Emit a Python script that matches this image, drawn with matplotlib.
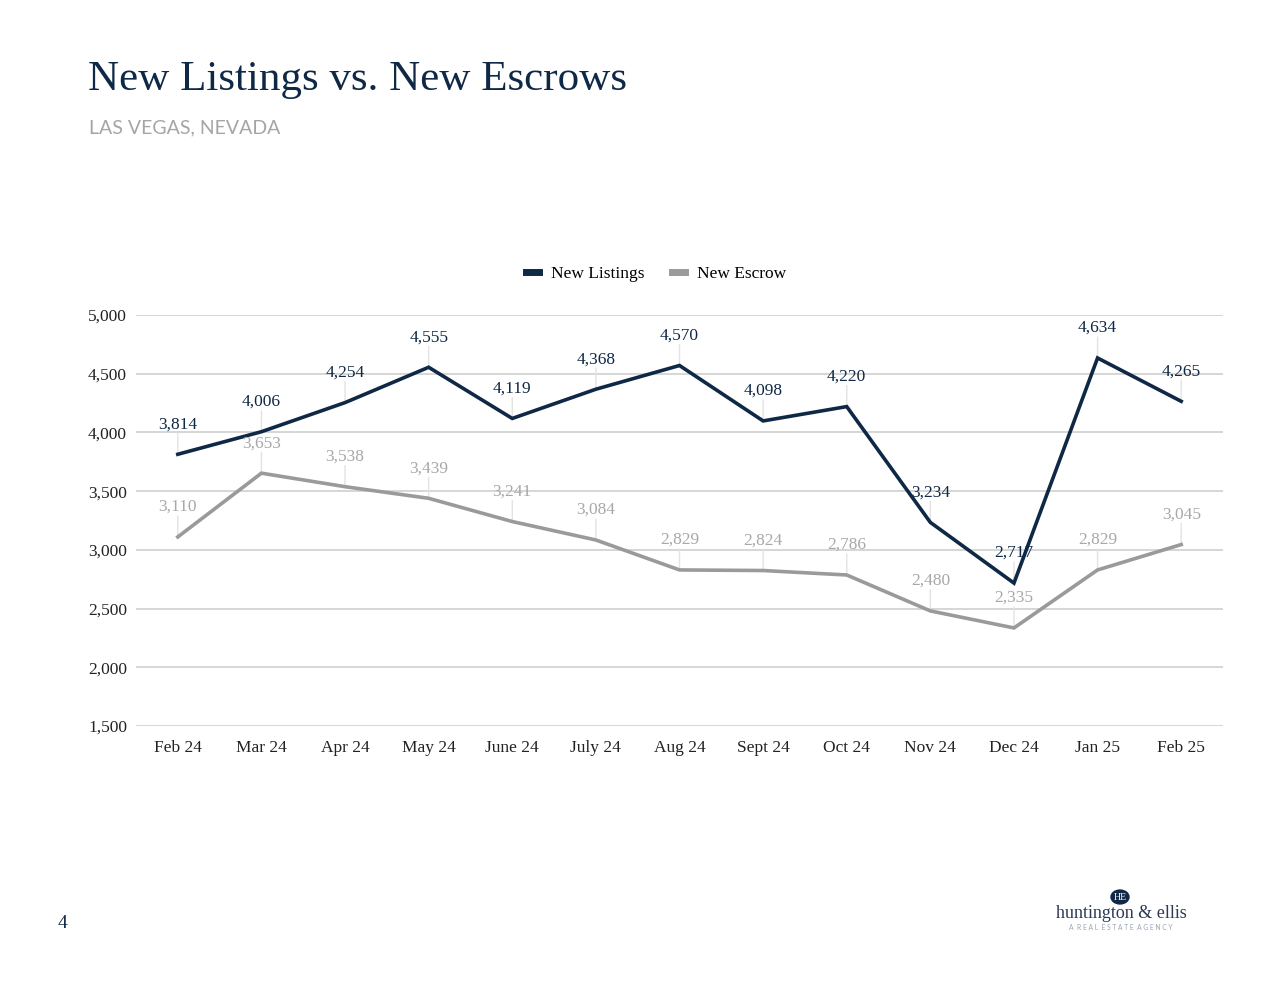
import matplotlib.pyplot as plt
from matplotlib.lines import Line2D

MONTHS = ['Feb 24', 'Mar 24', 'Apr 24', 'May 24', 'June 24', 'July 24', 'Aug 24',
          'Sept 24', 'Oct 24', 'Nov 24', 'Dec 24', 'Jan 25', 'Feb 25']
NEW_LISTINGS = [3814, 4006, 4254, 4555, 4119, 4368, 4570, 4098, 4220, 3234, 2717, 4634, 4265]
NEW_ESCROW = [3110, 3653, 3538, 3439, 3241, 3084, 2829, 2824, 2786, 2480, 2335, 2829, 3045]
Y_TICKS = [1500, 2000, 2500, 3000, 3500, 4000, 4500, 5000]

NAVY = '#0f2846'
GRAY = '#999a9c'
GRAY_TXT = '#a8a8a8'
GRID = '#d3d3d3'
SERIF = ['Liberation Serif', 'DejaVu Serif']

fig = plt.figure(figsize=(12.8, 9.89), dpi=100)
W, H = 1280, 989

# pixel box of the plot area
left, right, top, bottom = 136, 1223, 315, 726
ax = fig.add_axes([left / W, 1 - bottom / H, (right - left) / W, (bottom - top) / H])

x = list(range(len(MONTHS)))
ax.plot(x, NEW_ESCROW, color=GRAY, lw=2.6, zorder=3, solid_joinstyle='miter')
ax.plot(x, NEW_LISTINGS, color=NAVY, lw=2.6, zorder=4, solid_joinstyle='miter')

ax.set_xlim(-0.5, len(MONTHS) - 0.5)
ax.set_ylim(1500, 5000)
ax.set_yticks(Y_TICKS)
ax.set_yticklabels([f'{v:,}' for v in Y_TICKS], fontfamily=SERIF, fontsize=12.5, color='#222222')
ax.set_xticks(x)
ax.set_xticklabels(MONTHS, fontfamily=SERIF, fontsize=12.5, color='#222222')
ax.tick_params(axis='x', length=0, pad=10)
ax.tick_params(axis='y', length=0, pad=6.5)
ax.yaxis.grid(True, color=GRID, lw=1.3)
ax.set_axisbelow(True)
for s in ax.spines.values():
    s.set_visible(False)

# data labels with short leader lines
offset = 30  # pixels above the point
for series, col, z in [(NEW_ESCROW, GRAY_TXT, 5), (NEW_LISTINGS, NAVY, 6)]:
    for i, v in enumerate(series):
        ax.annotate('', xy=(i, v), xytext=(0, offset - 9), textcoords='offset pixels',
                    arrowprops=dict(arrowstyle='-', color='#e3e3e3', lw=1.0,
                                    shrinkA=0, shrinkB=0), zorder=2)
        ax.annotate(f'{v:,}', xy=(i, v), xytext=(0, offset), textcoords='offset pixels',
                    ha='center', va='center', fontfamily=SERIF, fontsize=12.5,
                    color=col, zorder=z)

# legend
handles = [Line2D([], [], color=NAVY, lw=5), Line2D([], [], color=GRAY, lw=5)]
fig.legend(handles, ['New Listings', 'New Escrow'], loc='center',
           bbox_to_anchor=(656 / W, 1 - 274 / H), ncol=2, frameon=False,
           prop={'family': SERIF, 'size': 12.5}, handlelength=0.75,
           handletextpad=0.7, columnspacing=1.6)

# title and subtitle
fig.text(88 / W, 1 - 80 / H, 'New Listings vs. New Escrows', fontfamily=SERIF,
         fontsize=31, color=NAVY, va='center', ha='left')
fig.text(89 / W, 1 - 128 / H, 'LAS VEGAS, NEVADA', fontfamily=['Lato', 'DejaVu Sans'],
         fontsize=14, color='#a5a5a5', va='center', ha='left')

# page number
fig.text(62 / W, 1 - 924 / H, '4', fontfamily=SERIF, fontsize=14, color=NAVY,
         va='center', ha='center')

# logo
fig.patches.append(plt.Circle((1120 / W, 1 - 897 / H), 9 / W, transform=fig.transFigure,
                              color=NAVY, zorder=5))
fig.text(1120 / W, 1 - 897 / H, 'HE', fontfamily=SERIF, fontsize=7, color='white',
         ha='center', va='center', zorder=6)
fig.text(1121 / W, 1 - 913 / H, 'huntington & ellis', fontfamily=SERIF, fontsize=13,
         color='#2b3a55', ha='center', va='center')
fig.text(1121 / W, 1 - 927 / H, 'A  R E A L  E S T A T E  A G E N C Y',
         fontfamily=['Lato', 'DejaVu Sans'], fontsize=4.8, color='#9aa3b5',
         ha='center', va='center')

fig.savefig('out.png', dpi=100)
